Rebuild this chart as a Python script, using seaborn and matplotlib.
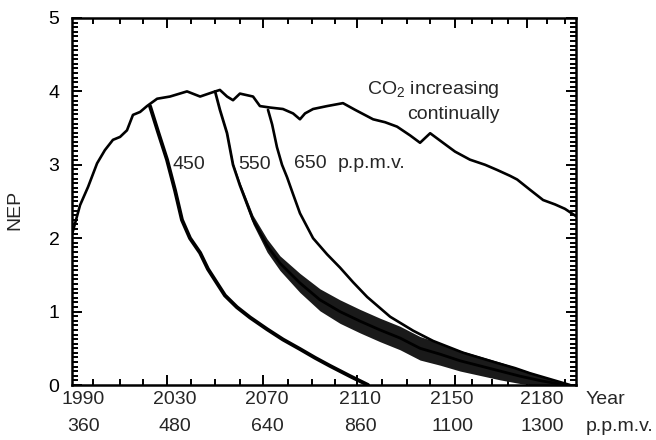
import matplotlib
matplotlib.use("Agg")
import matplotlib.pyplot as plt
import seaborn as sns
import numpy as np
import pandas as pd
from matplotlib.ticker import FixedLocator, MultipleLocator

# ---------------- data ----------------
# CO2 increasing continually
main_year = [1985.2, 1988.7, 1992.2, 1996.1, 1999.5, 2003.0, 2006.1, 2009.1, 2011.7, 2014.8,
             2017.8, 2022.2, 2027.8, 2035.2, 2040.9, 2046.5, 2049.5, 2052.6, 2055.2, 2058.2,
             2063.9, 2066.9, 2071.3, 2076.9, 2081.3, 2084.3, 2086.5, 2090.0, 2096.1, 2103.0,
             2108.2, 2116.1, 2121.3, 2126.5, 2132.2, 2136.5, 2140.9, 2146.5, 2151.7, 2158.2,
             2164.8, 2170.0, 2175.6, 2178.7, 2184.3, 2190.0, 2195.2, 2199.5, 2204.3]
main_nep = [2.05, 2.45, 2.70, 3.02, 3.20, 3.34, 3.38, 3.47, 3.68, 3.72,
            3.80, 3.90, 3.93, 4.00, 3.93, 3.99, 4.02, 3.93, 3.88, 3.97,
            3.93, 3.80, 3.78, 3.76, 3.70, 3.62, 3.70, 3.76, 3.80, 3.84,
            3.75, 3.62, 3.58, 3.52, 3.40, 3.30, 3.43, 3.30, 3.18, 3.07,
            3.00, 2.93, 2.85, 2.80, 2.66, 2.52, 2.46, 2.40, 2.30]

# CO2 stabilised at 450 p.p.m.v.
s450_year = [2019.1, 2022.6, 2026.5, 2030.0, 2033.0, 2036.5, 2040.9, 2044.3, 2048.2, 2051.7,
             2056.9, 2062.6, 2070.0, 2076.9, 2084.3, 2090.9, 2097.4, 2106.1, 2113.9]
s450_nep = [3.80, 3.45, 3.07, 2.65, 2.25, 2.00, 1.80, 1.58, 1.39, 1.22,
            1.06, 0.92, 0.76, 0.62, 0.49, 0.37, 0.26, 0.12, 0.00]

# CO2 stabilised at 550 p.p.m.v. (centre and half-width of the oscillating band)
s550_year = [2047.4, 2049.5, 2052.6, 2055.2, 2058.2, 2063.9, 2070.0, 2075.6, 2084.3, 2093.0,
             2101.7, 2110.4, 2119.1, 2127.8, 2136.5, 2145.2, 2153.9, 2162.6, 2171.3, 2180.0,
             2188.7, 2199.5]
s550_nep = [4.00, 3.75, 3.43, 3.00, 2.72, 2.25, 1.90, 1.66, 1.39, 1.16,
            1.00, 0.87, 0.75, 0.64, 0.50, 0.42, 0.33, 0.26, 0.19, 0.12,
            0.06, 0.00]
s550_half = [0.00, 0.00, 0.02, 0.03, 0.04, 0.06, 0.09, 0.10, 0.13, 0.15,
             0.16, 0.16, 0.16, 0.16, 0.16, 0.15, 0.14, 0.13, 0.12, 0.10,
             0.07, 0.02]

# CO2 stabilised at 650 p.p.m.v.
s650_year = [2070.4, 2072.2, 2074.3, 2076.5, 2078.7, 2081.3, 2084.3, 2090.0, 2096.1, 2101.7,
             2107.4, 2113.5, 2123.5, 2133.5, 2142.2, 2155.2, 2162.6, 2170.0, 2177.8, 2184.3,
             2193.0, 2201.7]
s650_nep = [3.75, 3.55, 3.24, 3.00, 2.83, 2.60, 2.34, 2.00, 1.78, 1.60,
            1.40, 1.20, 0.93, 0.74, 0.60, 0.44, 0.37, 0.30, 0.23, 0.16,
            0.08, 0.00]

# axis labelling
year_labels = ["1990", "2030", "2070", "2110", "2150", "2180"]
ppmv_labels = ["360", "480", "640", "860", "1100", "1300"]
label_pos = [1990.0, 2030.0, 2070.0, 2110.4, 2150.4, 2189.5]
x_major = [2026.5, 2068.2, 2109.1, 2151.7, 2183.0]
x_minor = [1994.3, 2006.1, 2016.1, 2036.9, 2047.4, 2058.2, 2079.1, 2089.5, 2099.5,
           2120.0, 2130.9, 2140.9, 2159.1, 2167.8, 2174.8, 2191.7, 2199.5]

# ---------------- style ----------------
sns.set_style("ticks")
plt.rcParams["font.family"] = ["Liberation Sans", "DejaVu Sans"]
plt.rcParams["mathtext.fontset"] = "custom"
plt.rcParams["mathtext.rm"] = "Liberation Sans"
plt.rcParams["mathtext.it"] = "Liberation Sans:italic"

FS = 14

fig = plt.figure(figsize=(6.56, 4.4), dpi=100)
ax = fig.add_axes([72 / 656, 1 - 385 / 440, 504 / 656, 367 / 440])

df_main = pd.DataFrame({"year": main_year, "nep": main_nep})
df450 = pd.DataFrame({"year": s450_year, "nep": s450_nep})
df550 = pd.DataFrame({"year": s550_year, "nep": s550_nep, "half": s550_half})
df650 = pd.DataFrame({"year": s650_year, "nep": s650_nep})

ax.fill_between(df550["year"], df550["nep"] - df550["half"], df550["nep"] + df550["half"],
                color="0.1", lw=0, zorder=2)
sns.lineplot(data=df_main, x="year", y="nep", ax=ax, color="black", lw=1.9,
             estimator=None, sort=False, zorder=3)
sns.lineplot(data=df450, x="year", y="nep", ax=ax, color="black", lw=2.8,
             estimator=None, sort=False, zorder=3)
sns.lineplot(data=df550, x="year", y="nep", ax=ax, color="black", lw=2.0,
             estimator=None, sort=False, zorder=3)
sns.lineplot(data=df650, x="year", y="nep", ax=ax, color="black", lw=1.9,
             estimator=None, sort=False, zorder=3)

ax.set_xlim(1985.2, 2204.3)
ax.set_ylim(0, 5)

ax.xaxis.set_major_locator(FixedLocator(x_major))
ax.xaxis.set_minor_locator(FixedLocator(x_minor))
ax.yaxis.set_major_locator(MultipleLocator(1))
ax.yaxis.set_minor_locator(MultipleLocator(0.0625))
ax.tick_params(which="both", direction="in", top=True, right=True, width=1.4, color="black")
ax.tick_params(which="major", length=7)
ax.tick_params(which="minor", length=4)
ax.tick_params(axis="x", labelbottom=False)
ax.tick_params(axis="y", labelsize=FS, pad=9, labelcolor="black")
for s in ax.spines.values():
    s.set_linewidth(1.8)
    s.set_color("black")

ax.set_xlabel("")
ax.set_ylabel("")
fig.text(15 / 656, 1 - 210 / 440, "NEP", rotation=90, ha="center", va="center", fontsize=FS)

xt = ax.get_xaxis_transform()
for p, yl, pl in zip(label_pos, year_labels, ppmv_labels):
    ax.text(p, -14 / 367, yl, transform=xt, ha="center", va="center", fontsize=FS)
    ax.text(p, -41 / 367, pl, transform=xt, ha="center", va="center", fontsize=FS)
ax.text((586 - 72) / 504, -14 / 367, "Year", transform=ax.transAxes, ha="left", va="center",
        fontsize=FS)
ax.text((586 - 72) / 504, -41 / 367, "p.p.m.v.", transform=ax.transAxes, ha="left", va="center",
        fontsize=FS)

ax.text(2036.0, 3.0, "450", ha="center", va="center", fontsize=FS)
ax.text(2064.5, 3.0, "550", ha="center", va="center", fontsize=FS)
ax.text(2088.7, 3.02, "650", ha="center", va="center", fontsize=FS)
ax.text(2115.6, 3.02, "p.p.m.v.", ha="center", va="center", fontsize=FS)
ax.text(2171.3, 4.02, r"CO$_2$ increasing", ha="right", va="center", fontsize=FS)
ax.text(2171.3, 3.68, "continually", ha="right", va="center", fontsize=FS)

fig.savefig("out.png", dpi=100)
